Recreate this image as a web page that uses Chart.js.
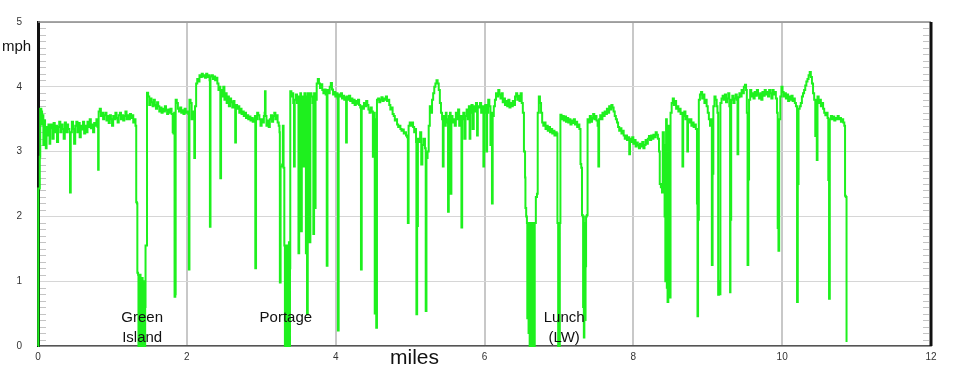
<!DOCTYPE html>
<html lang="en">
<head>
    <meta charset="UTF-8">
    <title>Speed along the route</title>
    <script src="https://cdn.jsdelivr.net/npm/chart.js"></script>
    <style>
        html, body { margin: 0; padding: 0; background: #fff; }
        #speedChart { display: block; }
    </style>
</head>
<body>
    <canvas id="speedChart" width="960" height="371"></canvas>

    <script>
        // [mile, mph] samples, split by stop
        const toGreenIsland = [
            [0,0],[0.004,2.43],[0.02,2.43],[0.024,2.92],[0.03,3.66],[0.045,3.62],[0.055,3.42],[0.065,3.56],[0.072,3.1],[0.08,3.48],
            [0.095,3.3],[0.105,3.05],[0.115,3.38],[0.13,3.25],[0.14,3.42],[0.155,3.12],[0.165,3.36],[0.18,3.42],[0.195,3.2],[0.21,3.44],
            [0.225,3.3],[0.24,3.4],[0.255,3.15],[0.27,3.38],[0.285,3.46],[0.3,3.3],[0.315,3.42],[0.33,3.35],[0.345,3.2],[0.36,3.45],
            [0.375,3.3],[0.39,3.42],[0.405,3.35],[0.42,3.3],[0.43,2.37],[0.44,3.3],[0.455,3.46],[0.47,3.35],[0.485,3.12],[0.5,3.4],
            [0.515,3.46],[0.53,3.3],[0.545,3.44],[0.56,3.22],[0.575,3.4],[0.59,3.34],[0.605,3.46],[0.62,3.28],[0.635,3.4],[0.65,3.3],
            [0.665,3.46],[0.68,3.38],[0.695,3.5],[0.71,3.36],[0.725,3.42],[0.74,3.3],[0.755,3.44],[0.77,3.4],[0.785,3.5],[0.8,3.38],
            [0.808,2.72],[0.815,3.62],[0.83,3.66],[0.845,3.55],[0.86,3.6],[0.875,3.5],[0.89,3.56],[0.905,3.6],[0.92,3.48],[0.935,3.55],
            [0.95,3.44],[0.965,3.56],[0.98,3.5],[0.995,3.4],[1.01,3.55],[1.025,3.5],[1.04,3.6],[1.055,3.52],[1.07,3.45],[1.085,3.56],
            [1.1,3.6],[1.115,3.5],[1.13,3.56],[1.145,3.48],[1.16,3.55],[1.175,3.62],[1.19,3.5],[1.205,3.56],[1.22,3.5],[1.235,3.58],
            [1.25,3.52],[1.265,3.56],[1.28,3.45],[1.295,3.5],[1.31,3.4],[1.32,2.22],[1.33,2.2],[1.335,1.13],[1.345,1.1],[1.35,0],
            [1.357,1.05],[1.364,0],[1.371,1.1],[1.378,0],[1.385,0.95],[1.392,0],[1.399,1.05],[1.406,0],[1.413,0.8],[1.42,0],
            [1.427,1.0],[1.434,0],[1.44,0.6],[1.445,1.55],[1.46,1.55]
        ];
        const toPortage = [
            [1.465,3.91],[1.48,3.85],[1.495,3.72],[1.51,3.82],[1.525,3.76],[1.54,3.7],[1.555,3.8],[1.57,3.72],[1.585,3.66],[1.6,3.76],
            [1.615,3.7],[1.63,3.62],[1.645,3.68],[1.66,3.6],[1.675,3.66],[1.69,3.62],[1.705,3.7],[1.72,3.64],[1.735,3.58],[1.75,3.65],
            [1.765,3.6],[1.78,3.66],[1.795,3.58],[1.81,3.3],[1.82,3.28],[1.83,3.6],[1.835,0.76],[1.845,0.8],[1.85,3.8],[1.865,3.75],
            [1.88,3.66],[1.895,3.62],[1.91,3.68],[1.925,3.6],[1.94,3.64],[1.955,3.58],[1.97,3.66],[1.985,3.6],[2.0,3.62],[2.02,3.58],
            [2.027,1.18],[2.035,3.8],[2.05,3.75],[2.065,3.5],[2.08,3.62],[2.095,3.55],[2.1,2.9],[2.11,3.7],[2.125,4.05],[2.14,4.12],
            [2.155,4.08],[2.17,4.18],[2.185,4.15],[2.2,4.2],[2.215,4.16],[2.23,4.18],[2.245,4.14],[2.26,4.2],[2.275,4.15],[2.29,4.18],
            [2.305,4.1],[2.31,1.84],[2.318,4.16],[2.335,4.18],[2.35,4.12],[2.365,4.16],[2.38,4.1],[2.395,4.14],[2.41,4.05],[2.425,3.95],
            [2.44,4.0],[2.45,2.59],[2.46,3.95],[2.475,3.85],[2.49,4.0],[2.505,3.8],[2.52,3.9],[2.535,3.75],[2.55,3.85],[2.565,3.7],
            [2.58,3.82],[2.595,3.76],[2.61,3.68],[2.625,3.78],[2.64,3.7],[2.65,3.14],[2.66,3.72],[2.675,3.66],[2.69,3.7],[2.705,3.6],
            [2.72,3.66],[2.735,3.58],[2.75,3.62],[2.765,3.55],[2.78,3.6],[2.795,3.52],[2.81,3.56],[2.825,3.5],[2.84,3.54],[2.855,3.48],
            [2.87,3.52],[2.885,3.46],[2.9,3.5],[2.915,3.55],[2.92,1.2],[2.93,3.5],[2.945,3.6],[2.96,3.56],[2.975,3.5],[2.99,3.4],
            [3.005,3.5],[3.02,3.45],[3.035,3.55],[3.045,3.6],[3.05,3.93],[3.058,3.55],[3.07,3.4],[3.085,3.48],[3.1,3.38],[3.115,3.5],
            [3.13,3.56],[3.145,3.46],[3.16,3.55],[3.175,3.6],[3.19,3.5],[3.205,3.56],[3.22,3.45],[3.235,3.4],[3.245,3.3],[3.25,0.98],
            [3.26,2.77],[3.28,2.8],[3.29,3.4],[3.3,2.75],[3.31,1.55],[3.318,0],[3.325,1.55],[3.332,0],[3.34,1.5],[3.348,0],
            [3.356,1.55],[3.364,0],[3.372,1.6],[3.38,0],[3.386,1.2]
        ];
        const toLunch = [
            [3.39,3.93],[3.405,3.85],[3.42,3.9],[3.43,3.75],[3.44,2.77],[3.45,3.8],[3.465,3.88],[3.48,3.75],[3.49,3.85],[3.5,1.43],
            [3.51,3.8],[3.525,3.9],[3.535,1.77],[3.545,3.85],[3.56,3.75],[3.57,2.77],[3.58,3.9],[3.595,3.8],[3.6,1.43],[3.61,3.85],
            [3.615,0.49],[3.625,3.9],[3.64,3.8],[3.65,1.6],[3.66,3.9],[3.675,3.85],[3.69,3.75],[3.7,1.73],[3.71,3.9],[3.72,2.13],
            [3.73,3.8],[3.745,4.05],[3.76,4.12],[3.775,4.05],[3.79,3.98],[3.805,4.04],[3.82,3.95],[3.835,3.9],[3.85,3.96],[3.865,3.88],
            [3.88,1.24],[3.89,3.95],[3.905,3.9],[3.92,4.0],[3.935,4.06],[3.95,3.96],[3.965,3.88],[3.98,3.92],[3.995,3.85],[4.01,3.9],
            [4.025,3.82],[4.03,0.24],[4.04,3.88],[4.055,3.85],[4.07,3.9],[4.085,3.82],[4.1,3.86],[4.115,3.8],[4.13,3.84],[4.14,3.14],
            [4.15,3.85],[4.165,3.8],[4.18,3.86],[4.195,3.78],[4.21,3.82],[4.225,3.75],[4.24,3.8],[4.255,3.72],[4.27,3.78],[4.285,3.74],
            [4.3,3.8],[4.315,3.72],[4.33,3.68],[4.34,1.18],[4.35,3.7],[4.365,3.66],[4.38,3.75],[4.395,3.7],[4.41,3.78],[4.425,3.72],
            [4.44,3.65],[4.455,3.6],[4.47,3.68],[4.485,3.62],[4.5,2.92],[4.51,3.6],[4.525,0.5],[4.535,3.5],[4.545,0.28],[4.555,3.8],
            [4.57,3.82],[4.585,3.76],[4.6,3.8],[4.615,3.84],[4.63,3.78],[4.645,3.82],[4.66,3.8],[4.675,3.85],[4.69,3.78],[4.705,3.8],
            [4.72,3.72],[4.735,3.65],[4.75,3.68],[4.765,3.58],[4.78,3.55],[4.795,3.48],[4.81,3.5],[4.825,3.42],[4.84,3.38],[4.855,3.4],
            [4.87,3.35],[4.885,3.32],[4.9,3.34],[4.915,3.28],[4.93,3.3],[4.945,3.25],[4.96,3.22],[4.97,1.9],[4.98,3.4],[4.995,3.45],
            [5.01,3.4],[5.025,3.45],[5.04,3.38],[5.055,3.3],[5.07,3.35],[5.08,3.15],[5.085,0.49],[5.095,1.85],[5.105,3.2],[5.12,3.15],
            [5.135,3.3],[5.15,2.8],[5.165,3.1],[5.18,3.2],[5.2,3.05],[5.21,0.54],[5.22,2.9],[5.235,3.0],[5.25,3.4],[5.265,3.7],
            [5.28,3.6],[5.295,3.8],[5.31,3.9],[5.325,4.0],[5.34,4.05],[5.355,4.1],[5.37,4.05],[5.385,3.95],[5.4,3.75],[5.415,3.6],
            [5.43,3.5],[5.44,2.77],[5.45,3.55],[5.465,3.4],[5.48,3.6],[5.49,3.5],[5.5,3.45],[5.51,2.07],[5.52,3.55],[5.535,3.6],
            [5.545,2.35],[5.555,3.55],[5.57,3.45],[5.585,3.5],[5.6,3.4],[5.615,3.6],[5.63,3.5],[5.645,3.65],[5.66,3.4],[5.675,3.55],
            [5.69,1.83],[5.7,3.5],[5.715,3.6],[5.73,3.2],[5.745,3.55],[5.76,3.65],[5.775,3.5],[5.79,3.7],[5.8,3.2],[5.81,3.6],
            [5.825,3.72],[5.84,3.35],[5.855,3.7],[5.87,3.62],[5.885,3.75],[5.9,3.25],[5.91,3.7],[5.925,3.68],[5.94,3.75],[5.955,3.6],
            [5.97,3.7],[5.985,2.77],[5.995,3.6],[6.01,3.72],[6.025,3.0],[6.035,3.6],[6.05,3.8],[6.065,3.7],[6.08,3.1],[6.09,3.6],
            [6.1,2.2],[6.11,3.55],[6.125,3.7],[6.14,3.8],[6.155,3.9],[6.17,3.85],[6.185,3.95],[6.2,3.88],[6.215,3.82],[6.23,3.9],
            [6.245,3.76],[6.26,3.82],[6.275,3.72],[6.29,3.78],[6.305,3.7],[6.32,3.8],[6.335,3.68],[6.35,3.75],[6.365,3.7],[6.38,3.78],
            [6.395,3.72],[6.41,3.85],[6.425,3.9],[6.44,3.8],[6.455,3.86],[6.47,3.78],[6.485,3.9],[6.5,3.75],[6.515,3.6],[6.53,3.0],
            [6.545,2.6],[6.55,2.13],[6.56,2.0]
        ];
        const toFinish = [
            [6.57,1.9],[6.575,0.43],[6.585,1.9],[6.592,0.2],[6.6,1.85],[6.607,0],[6.615,1.9],[6.622,0.3],[6.63,1.8],[6.637,0],
            [6.645,1.9],[6.652,0.1],[6.66,1.7],[6.667,0],[6.675,1.9],[6.69,2.3],[6.705,2.35],[6.715,3.6],[6.73,3.85],[6.745,3.75],
            [6.76,3.6],[6.775,3.45],[6.79,3.4],[6.805,3.45],[6.82,3.35],[6.835,3.4],[6.85,3.32],[6.865,3.38],[6.88,3.3],[6.895,3.35],
            [6.91,3.28],[6.925,3.32],[6.94,3.25],[6.955,3.3],[6.97,3.28],[6.98,1.9],[6.99,0],[7.0,1.0],[7.005,0],[7.012,1.9],
            [7.02,3.57],[7.035,3.5],[7.05,3.55],[7.065,3.48],[7.08,3.54],[7.095,3.46],[7.11,3.52],[7.125,3.45],[7.14,3.5],[7.155,3.42],
            [7.17,3.48],[7.185,3.44],[7.2,3.5],[7.215,3.42],[7.23,3.46],[7.245,3.38],[7.26,3.42],[7.275,3.35],[7.29,2.81],[7.3,2.75],
            [7.31,2.02],[7.32,2.0],[7.325,0.6],[7.33,2.0],[7.335,0.13],[7.342,1.9],[7.35,0.4],[7.358,1.23],[7.365,2.0],[7.375,2.02],
            [7.385,3.5],[7.4,3.45],[7.415,3.55],[7.43,3.46],[7.445,3.52],[7.46,3.58],[7.475,3.5],[7.49,3.55],[7.505,3.48],[7.52,3.4],
            [7.53,2.77],[7.54,3.5],[7.555,3.56],[7.57,3.5],[7.585,3.6],[7.6,3.55],[7.615,3.62],[7.63,3.58],[7.645,3.66],[7.66,3.6],
            [7.675,3.7],[7.69,3.65],[7.705,3.72],[7.72,3.68],[7.735,3.62],[7.75,3.55],[7.765,3.5],[7.78,3.45],[7.795,3.38],[7.81,3.32],
            [7.825,3.36],[7.84,3.28],[7.855,3.32],[7.87,3.25],[7.885,3.2],[7.9,3.25],[7.915,3.18],[7.93,3.22],[7.945,2.96],[7.955,3.2],
            [7.97,3.15],[7.985,3.22],[8.0,3.12],[8.015,3.18],[8.03,3.08],[8.045,3.14],[8.06,3.1],[8.075,3.05],[8.09,3.12],[8.105,3.08],
            [8.12,3.15],[8.135,3.05],[8.15,3.1],[8.165,3.18],[8.18,3.12],[8.195,3.2],[8.21,3.24],[8.225,3.18],[8.24,3.25],[8.255,3.2],
            [8.27,3.26],[8.285,3.22],[8.3,3.3],[8.315,3.26],[8.33,3.2],[8.345,3.0],[8.355,2.5],[8.37,2.45],[8.385,2.37],[8.395,3.3],
            [8.41,3.1],[8.42,2.0],[8.43,1.0],[8.44,3.5],[8.45,0.9],[8.46,0.68],[8.47,3.4],[8.48,1.18],[8.49,0.75],[8.5,3.6],
            [8.515,3.75],[8.53,3.82],[8.545,3.72],[8.56,3.78],[8.575,3.66],[8.59,3.7],[8.605,3.62],[8.62,3.66],[8.635,3.58],[8.65,3.6],
            [8.66,2.77],[8.67,3.55],[8.685,3.62],[8.7,3.5],[8.715,3.55],[8.725,3.0],[8.735,3.5],[8.75,3.45],[8.765,3.5],[8.78,3.4],
            [8.795,3.45],[8.81,3.38],[8.825,3.42],[8.84,3.35],[8.855,2.2],[8.862,0.46],[8.87,1.95],[8.88,3.8],[8.895,3.88],[8.91,3.92],
            [8.925,3.82],[8.94,3.88],[8.955,3.75],[8.97,3.8],[8.985,3.7],[9.0,3.6],[9.015,3.5],[9.03,3.4],[9.045,3.5],[9.055,1.25],
            [9.065,2.66],[9.075,3.7],[9.09,3.85],[9.105,3.8],[9.12,3.7],[9.13,3.6],[9.14,0.79],[9.15,1.0],[9.16,0.8],[9.17,3.75],
            [9.185,3.82],[9.2,3.86],[9.215,3.8],[9.23,3.88],[9.245,3.76],[9.26,3.82],[9.275,3.9],[9.29,3.7],[9.3,0.83],[9.305,1.95],
            [9.315,3.8],[9.33,3.86],[9.345,3.75],[9.36,3.82],[9.375,3.88],[9.39,3.8],[9.4,2.96],[9.41,3.84],[9.425,3.9],[9.44,3.85],
            [9.455,3.95],[9.47,3.9],[9.485,4.0],[9.5,4.03],[9.515,3.95],[9.525,3.6],[9.535,1.25],[9.545,2.57],[9.555,3.8],[9.57,3.95],
            [9.585,3.85],[9.6,3.9],[9.615,3.82],[9.63,3.92],[9.645,3.86],[9.66,3.95],[9.675,3.88],[9.69,3.82],[9.705,3.9],[9.72,3.8],
            [9.735,3.92],[9.75,3.86],[9.765,3.95],[9.78,3.88],[9.795,3.92],[9.81,3.85],[9.825,3.95],[9.84,3.9],[9.855,3.82],[9.87,3.95],
            [9.885,3.88],[9.9,3.92],[9.915,3.82],[9.93,3.6],[9.94,1.82],[9.95,1.47],[9.96,3.5],[9.975,3.85],[9.99,4.0],[10.005,3.92],
            [10.02,3.85],[10.035,3.9],[10.05,3.82],[10.065,3.88],[10.08,3.78],[10.095,3.85],[10.11,3.8],[10.125,3.86],[10.14,3.78],[10.155,3.82],
            [10.17,3.75],[10.185,3.7],[10.2,0.68],[10.21,2.5],[10.22,3.66],[10.235,3.7],[10.25,3.75],[10.265,3.85],[10.28,3.9],[10.295,3.95],
            [10.31,4.02],[10.325,4.08],[10.34,4.12],[10.355,4.18],[10.37,4.23],[10.385,4.15],[10.4,4.05],[10.415,3.9],[10.43,3.8],[10.445,3.24],
            [10.455,3.8],[10.465,2.87],[10.475,3.85],[10.49,3.75],[10.505,3.8],[10.52,3.7],[10.535,3.75],[10.55,3.66],[10.565,3.6],[10.58,3.56],
            [10.595,3.6],[10.61,3.52],[10.62,2.56],[10.63,0.73],[10.64,3.5],[10.655,3.55],[10.67,3.5],[10.685,3.54],[10.7,3.48],[10.715,3.52],
            [10.73,3.5],[10.745,3.55],[10.76,3.5],[10.775,3.52],[10.79,3.46],[10.805,3.5],[10.82,3.45],[10.835,3.4],[10.845,2.32],[10.855,2.3],
            [10.865,0.06]
        ];

        const xTicks = [0, 2, 4, 6, 8, 10, 12];
        const yTicks = [0, 1, 2, 3, 4, 5];
        const stopNames = [['Green', 'Island'], ['Portage'], ['Lunch', '(LW)']];
        const stopMiles = [1.4, 3.33, 7.07];

        const samples = [...toGreenIsland, ...toPortage, ...toLunch, ...toFinish]
            .map(([x, y]) => ({x, y}));

        const framePlugin = {
            id: 'framePlugin',
            beforeDatasetsDraw(chart) {
                const {ctx, chartArea: a} = chart;
                const y = chart.scales.y;
                ctx.save();
                // minor ticks on both edges
                ctx.strokeStyle = '#c4c4c4';
                ctx.lineWidth = 1;
                for (let v = 0; v <= 50; v++) {
                    if (v % 10 === 0) continue;
                    const py = Math.round(y.getPixelForValue(v / 10)) + 0.5;
                    ctx.beginPath();
                    ctx.moveTo(a.left + 2, py); ctx.lineTo(a.left + 8, py);
                    ctx.moveTo(a.right - 8, py); ctx.lineTo(a.right - 2, py);
                    ctx.stroke();
                }
                // top and right borders
                ctx.strokeStyle = '#8a8a8a';
                ctx.lineWidth = 1.5;
                ctx.beginPath();
                ctx.moveTo(a.left, a.top); ctx.lineTo(a.right, a.top);
                ctx.stroke();
                ctx.strokeStyle = '#111';
                ctx.lineWidth = 3;
                ctx.beginPath();
                ctx.moveTo(a.right, a.top); ctx.lineTo(a.right, a.bottom);
                ctx.stroke();
                ctx.restore();
            },
            afterDatasetsDraw(chart) {
                const {ctx, chartArea: a} = chart;
                const x = chart.scales.x;
                ctx.save();
                ctx.fillStyle = '#111';
                ctx.textAlign = 'center';
                ctx.textBaseline = 'middle';
                ctx.font = '15px "Liberation Sans", Arial, sans-serif';
                stopNames.forEach((lines, i) => {
                    const px = x.getPixelForValue(stopMiles[i]);
                    lines.forEach((t, j) => ctx.fillText(t, px, a.bottom - 28 + j * 20));
                });
                ctx.textAlign = 'left';
                ctx.font = '15px "Liberation Sans", Arial, sans-serif';
                ctx.fillText('mph', 2, 47);
                ctx.font = '21px "Liberation Sans Narrow", "Liberation Sans", Arial, sans-serif';
                ctx.fillText('miles', 390, 358);
                ctx.restore();
            }
        };

        const config = {
            type: 'line',
            data: {
                datasets: [{
                    data: samples,
                    borderColor: '#1ef01e',
                    borderWidth: 2,
                    pointRadius: 0,
                    stepped: true,
                    clip: 4
                }]
            },
            options: {
                responsive: false,
                animation: false,
                parsing: false,
                layout: { padding: { top: 10, right: 29, left: 0, bottom: 0 } },
                plugins: {
                    legend: { display: false },
                    tooltip: { enabled: false }
                },
                scales: {
                    x: {
                        type: 'linear',
                        min: 0,
                        max: 12,
                        afterBuildTicks: s => { s.ticks = xTicks.map(v => ({value: v})); },
                        afterFit: s => { s.height = 25; },
                        ticks: { color: '#333', font: { size: 10 }, padding: 5, maxRotation: 0 },
                        grid: { color: '#c8c8c8', lineWidth: 2, drawTicks: false },
                        border: { color: '#555', width: 1.5 }
                    },
                    y: {
                        min: 0,
                        max: 5,
                        afterBuildTicks: s => { s.ticks = yTicks.map(v => ({value: v})); },
                        afterFit: s => { s.width = 38; },
                        ticks: { color: '#333', font: { size: 10 }, padding: 16 },
                        grid: { color: '#d6d6d6', lineWidth: 1, drawTicks: false },
                        border: { color: '#111', width: 3 }
                    }
                }
            },
            plugins: [framePlugin]
        };

        new Chart(document.getElementById('speedChart'), config);
    </script>
</body>
</html>
